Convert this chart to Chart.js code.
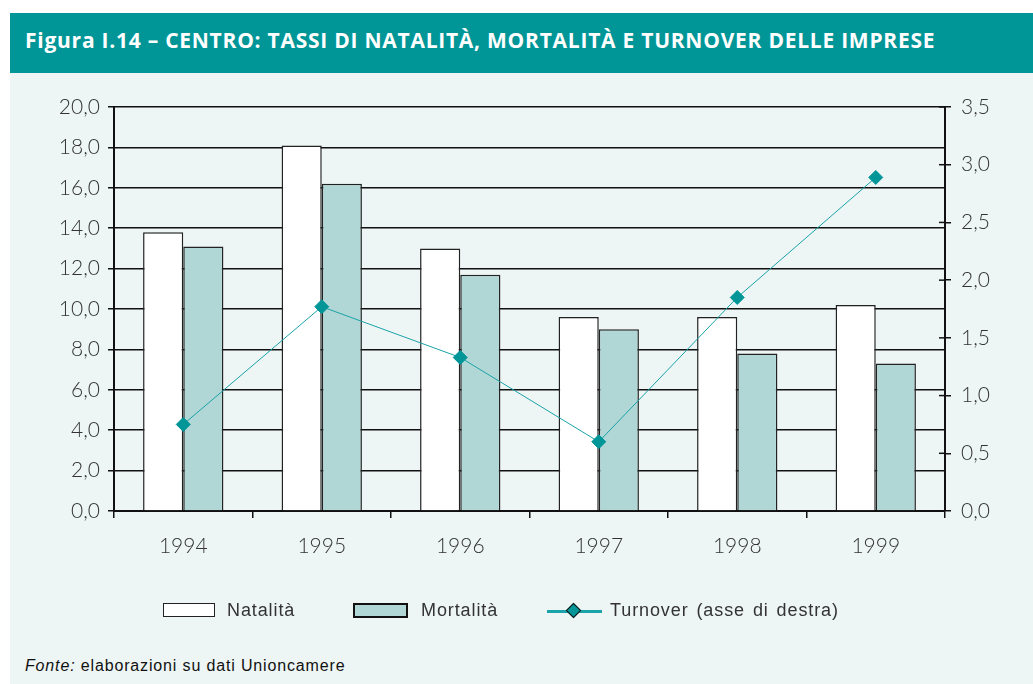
<!DOCTYPE html>
<html>
<head>
<meta charset="utf-8">
<script src="https://cdn.jsdelivr.net/npm/chart.js@4"></script>
<style>
  body { margin: 0; width: 1033px; height: 684px; background: #fff; position: relative; overflow: hidden; }
  #band { position: absolute; left: 10px; top: 13px; width: 1023px; height: 60px; background: #009698; }
  #band span { position: absolute; left: 15px; top: 13px; color: #fff; font: 700 21px "Open Sans", sans-serif; letter-spacing: 0.75px; white-space: nowrap; }
  #panel { position: absolute; left: 10px; top: 73px; width: 1023px; height: 611px; background: #eef5f5; }
  #wrap { position: absolute; left: 10px; top: 73px; width: 1023px; height: 567px; }
  .leg { position: absolute; font: 18px "Liberation Sans", Arial, sans-serif; letter-spacing: 0.9px; color: #333; top: 600px; }
  .box { position: absolute; height: 14px; box-sizing: border-box; }
  #foot { position: absolute; left: 25px; top: 657px; font: 16px "Liberation Sans", Arial, sans-serif; letter-spacing: 0.85px; color: #111; }
</style>
</head>
<body>
<div id="band"><span>Figura I.14 – CENTRO: TASSI DI NATALITÀ, MORTALITÀ E TURNOVER DELLE IMPRESE</span></div>
<div id="panel"></div>
<div id="wrap"><canvas id="myChart"></canvas></div>

<div class="box" style="left:163px; top:603px; width:52px; border:1.5px solid #222; background:#fff;"></div>
<div class="leg" style="left:227px;">Natalità</div>
<div class="box" style="left:353px; top:603px; width:55px; height:15px; border:2.5px solid #111; background:#b1d6d6;"></div>
<div class="leg" style="left:421px;">Mortalità</div>
<div class="box" style="left:547px; top:610px; width:55px; height:3px; background:#1aa3a8;"></div>
<div class="box" style="left:568px; top:605px; width:11px; height:11px; border:1.5px solid #111; background:#009698; transform:rotate(45deg);"></div>
<div class="leg" style="left:610px; word-spacing:2px;">Turnover (asse di destra)</div>

<div id="foot"><i>Fonte:</i> elaborazioni su dati Unioncamere</div>

<script>
const years = ["1994", "1995", "1996", "1997", "1998", "1999"];
const natalita = [13.8, 18.1, 13.0, 9.6, 9.6, 10.2];
const mortalita = [13.1, 16.2, 11.7, 9.0, 7.8, 7.3];
const turnover = [0.75, 1.77, 1.33, 0.60, 1.85, 2.89];

const fmt = v => v.toFixed(1).replace('.', ',');
const tickFont = { family: "Lato", size: 21, weight: 300 };

// small inward ticks on the right axis
const innerTicks = {
    id: 'innerTicks',
    afterDatasetsDraw(chart) {
        const s = chart.scales.y1, ctx = chart.ctx;
        ctx.save();
        ctx.strokeStyle = '#111';
        ctx.lineWidth = 1.5;
        s.ticks.forEach(t => {
            const y = s.getPixelForValue(t.value);
            ctx.beginPath();
            ctx.moveTo(s.left - 6, y);
            ctx.lineTo(s.left, y);
            ctx.stroke();
        });
        ctx.restore();
    }
};

new Chart("myChart", {
    type: "bar",
    data: {
        labels: years,
        datasets: [{
            type: "line",
            label: "Turnover (asse di destra)",
            data: turnover,
            yAxisID: "y1",
            borderColor: "#1aa3a8",
            borderWidth: 1,
            pointStyle: "rectRot",
            pointRadius: 7,
            pointBackgroundColor: "#009698",
            pointBorderColor: "#009698",
            order: 0
        }, {
            label: "Natalità",
            data: natalita,
            backgroundColor: "#ffffff",
            borderColor: "#222",
            borderWidth: 1.5,
            order: 1
        }, {
            label: "Mortalità",
            data: mortalita,
            backgroundColor: "#b1d6d6",
            borderColor: "#222",
            borderWidth: 1.5,
            order: 1
        }]
    },
    options: {
        responsive: true,
        maintainAspectRatio: false,
        animation: false,
        layout: { padding: { left: 44, right: 28, top: 34, bottom: 79 } },
        datasets: { bar: { barPercentage: 1, categoryPercentage: 0.58 } },
        plugins: { legend: { display: false }, tooltip: { enabled: false } },
        scales: {
            x: {
                afterFit: s => { s.height = 50; },
                grid: { offset: true, drawOnChartArea: false, color: "#111", lineWidth: 1.5, tickLength: 7 },
                border: { color: "#111", width: 2 },
                ticks: { color: "#333", font: tickFont, padding: 16 }
            },
            y: {
                min: 0, max: 20,
                afterFit: s => { s.width = 60; },
                grid: { color: "#111", lineWidth: 1.5, tickLength: 6 },
                border: { color: "#111", width: 2 },
                ticks: { stepSize: 2, color: "#333", font: tickFont, padding: 8, callback: v => fmt(v) }
            },
            y1: {
                position: "right",
                min: 0, max: 3.5,
                afterFit: s => { s.width = 60; },
                grid: { drawOnChartArea: false, color: "#111", lineWidth: 1.5, tickLength: 6 },
                border: { color: "#111", width: 2 },
                ticks: { stepSize: 0.5, color: "#333", font: tickFont, padding: 10, callback: v => fmt(v) }
            }
        }
    },
    plugins: [innerTicks]
});
</script>
</body>
</html>
